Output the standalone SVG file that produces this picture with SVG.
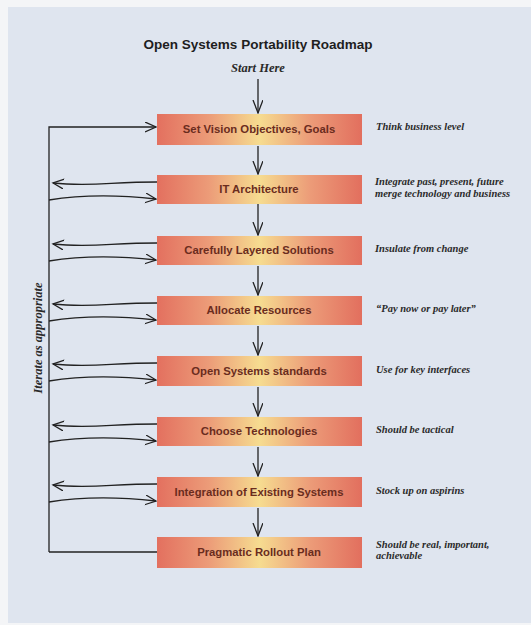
<svg xmlns="http://www.w3.org/2000/svg" width="531" height="625" viewBox="0 0 531 625">
<defs>
<linearGradient id="boxg" x1="0" y1="0" x2="1" y2="0">
<stop offset="0" stop-color="#e3705f"/>
<stop offset="0.25" stop-color="#ec9b78"/>
<stop offset="0.5" stop-color="#f6dc90"/>
<stop offset="0.75" stop-color="#ec9b78"/>
<stop offset="1" stop-color="#e26f5e"/>
</linearGradient>
<marker id="ah" markerUnits="userSpaceOnUse" markerWidth="14" markerHeight="12" refX="11" refY="5" orient="auto">
<path d="M0,0 L11,5 L0,10" fill="none" stroke="#222" stroke-width="1.3"/>
</marker>
<marker id="ahd" markerUnits="userSpaceOnUse" markerWidth="16" markerHeight="12" refX="13" refY="5" orient="auto">
<path d="M0,0 L13,5 L0,10" fill="none" stroke="#222" stroke-width="1.3"/>
</marker>
</defs>
<style>
.box{fill:url(#boxg);}
.bt{font-family:"Liberation Sans",Arial,sans-serif;font-weight:bold;font-size:11.3px;fill:#6a2c1e;text-anchor:middle;}
.note{font-family:"Liberation Serif","Times New Roman",serif;font-style:italic;font-weight:bold;font-size:10.5px;fill:#2a2a2a;}
.ln{fill:none;stroke:#222;stroke-width:1.3;}
</style>
<rect x="0" y="0" width="531" height="625" fill="#f4f5f7"/>
<rect x="8" y="7" width="523" height="616" fill="#dfe5ef"/>
<text x="258" y="49" font-family="'Liberation Sans',Arial,sans-serif" font-weight="bold" font-size="13.5" fill="#1e1e1e" text-anchor="middle">Open Systems Portability Roadmap</text>
<text x="258" y="72" font-family="'Liberation Serif','Times New Roman',serif" font-style="italic" font-weight="bold" font-size="12.5" fill="#2a2a2a" text-anchor="middle">Start Here</text>
<text transform="translate(42,338) rotate(-90)" font-family="'Liberation Serif','Times New Roman',serif" font-style="italic" font-weight="bold" font-size="12.5" fill="#2a2a2a" text-anchor="middle">Iterate as appropriate</text>

<g id="connectors">
<path class="ln" d="M258,79 V113" marker-end="url(#ahd)"/>
<path class="ln" d="M258,146 V174" marker-end="url(#ahd)"/>
<path class="ln" d="M258,204 V235" marker-end="url(#ahd)"/>
<path class="ln" d="M258,266 V295" marker-end="url(#ahd)"/>
<path class="ln" d="M258,326 V355" marker-end="url(#ahd)"/>
<path class="ln" d="M258,387 V416" marker-end="url(#ahd)"/>
<path class="ln" d="M258,447 V476" marker-end="url(#ahd)"/>
<path class="ln" d="M258,508 V536" marker-end="url(#ahd)"/>
<path class="ln" d="M49,552 V127 H156" marker-end="url(#ah)"/>
<path class="ln" d="M49,552 H157"/>
<path class="ln" d="M157,182 C110,182 90,187 53,183" marker-end="url(#ah)"/>
<path class="ln" d="M49,200 C80,195 120,195 156,199" marker-end="url(#ah)"/>
<path class="ln" d="M157,243 C110,243 90,248 53,244" marker-end="url(#ah)"/>
<path class="ln" d="M49,261 C80,256 120,256 156,260" marker-end="url(#ah)"/>
<path class="ln" d="M157,303 C110,303 90,308 53,304" marker-end="url(#ah)"/>
<path class="ln" d="M49,321 C80,316 120,316 156,320" marker-end="url(#ah)"/>
<path class="ln" d="M157,363 C110,363 90,368 53,364" marker-end="url(#ah)"/>
<path class="ln" d="M49,381 C80,376 120,376 156,380" marker-end="url(#ah)"/>
<path class="ln" d="M157,424 C110,424 90,429 53,425" marker-end="url(#ah)"/>
<path class="ln" d="M49,442 C80,437 120,437 156,441" marker-end="url(#ah)"/>
<path class="ln" d="M157,484 C110,484 90,489 53,485" marker-end="url(#ah)"/>
<path class="ln" d="M49,502 C80,497 120,497 156,501" marker-end="url(#ah)"/>
</g>

<g id="n1"><rect class="box" x="157" y="114" width="205" height="31"/><text class="bt" x="259" y="133">Set Vision Objectives, Goals</text></g>
<g id="n2"><rect class="box" x="157" y="175" width="205" height="29"/><text class="bt" x="259" y="193">IT Architecture</text></g>
<g id="n3"><rect class="box" x="157" y="236" width="205" height="29"/><text class="bt" x="259" y="254">Carefully Layered Solutions</text></g>
<g id="n4"><rect class="box" x="157" y="296" width="205" height="29"/><text class="bt" x="259" y="314">Allocate Resources</text></g>
<g id="n5"><rect class="box" x="157" y="356" width="205" height="30"/><text class="bt" x="259" y="375">Open Systems standards</text></g>
<g id="n6"><rect class="box" x="157" y="417" width="205" height="29"/><text class="bt" x="259" y="435">Choose Technologies</text></g>
<g id="n7"><rect class="box" x="157" y="477" width="205" height="30"/><text class="bt" x="259" y="496">Integration of Existing Systems</text></g>
<g id="n8"><rect class="box" x="157" y="537" width="205" height="31"/><text class="bt" x="259" y="556">Pragmatic Rollout Plan</text></g>

<g id="notes">
<text class="note" x="376" y="130">Think business level</text>
<text class="note" x="375" y="185">Integrate past, present, future</text>
<text class="note" x="375" y="197">merge technology and business</text>
<text class="note" x="375" y="252">Insulate from change</text>
<text class="note" x="376" y="312">“Pay now or pay later”</text>
<text class="note" x="376" y="373">Use for key interfaces</text>
<text class="note" x="376" y="433">Should be tactical</text>
<text class="note" x="376" y="494">Stock up on aspirins</text>
<text class="note" x="376" y="548">Should be real, important,</text>
<text class="note" x="376" y="559">achievable</text>
</g>
</svg>
